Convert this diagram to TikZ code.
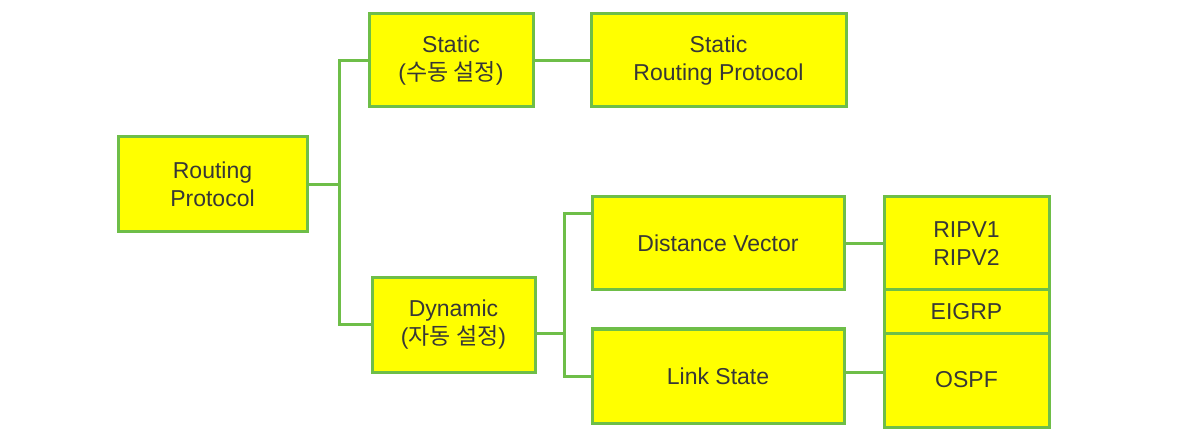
\documentclass[tikz,border=0pt]{standalone}
\usepackage{fontspec}
\setmainfont{Liberation Sans}
\newfontfamily\kr{Noto Sans CJK KR}
\definecolor{lgreen}{RGB}{110,190,72}
\definecolor{ltext}{RGB}{55,55,55}
\definecolor{lyellow}{RGB}{255,255,0}
\begin{document}
\begin{tikzpicture}[x=1pt,y=-1pt,
  box/.style={draw=lgreen,fill=lyellow,line width=3pt,rectangle,inner sep=0pt,
    align=center,text=ltext,font=\fontsize{23}{28}\selectfont},
  link/.style={draw=lgreen,line width=3pt}]
\useasboundingbox (0,0) rectangle (1177,435);
\node[box,minimum width=189pt,minimum height=95pt] (rp) at (212.5,184.5) {Routing\\Protocol};
\node[box,minimum width=164pt,minimum height=93pt] (st) at (451,60.5) {Static\\({\kr 수동 설정})};
\node[box,minimum width=255pt,minimum height=93pt] (srp) at (718.5,60.5) {Static\\Routing Protocol};
\node[box,minimum width=163pt,minimum height=94pt] (dy) at (453.5,325) {Dynamic\\({\kr 자동 설정})};
\node[box,minimum width=252pt,minimum height=93pt] (dv) at (718,243.5) {Distance Vector};
\node[box,minimum width=252pt,minimum height=94pt] (ls) at (718,376) {Link State};
\node[box,minimum width=165pt,minimum height=93pt] (rip) at (966.5,243.5) {RIPV1\\RIPV2};
\node[box,minimum width=165pt,minimum height=43pt] (eig) at (966.5,311.5) {EIGRP};
\node[box,minimum width=165pt,minimum height=94pt] (ospf) at (966.5,380) {OSPF};
\coordinate (j1) at (339,184.5);
\coordinate (j2) at (564,333);
\coordinate (dvin) at (592,214);
\coordinate (lsr) at (845,372);
\draw[link] (rp.east) -- (j1) |- (st.west);
\draw[link] (j1) |- (dy.west);
\draw[link] (st.east) -- (srp.west);
\draw[link] (dy.east |- j2) -- (j2) |- (dvin);
\draw[link] (j2) |- (ls.west);
\draw[link] (dv.east) -- (rip.west);
\draw[link] (lsr) -- (ospf.west |- lsr);
\end{tikzpicture}
\end{document}
